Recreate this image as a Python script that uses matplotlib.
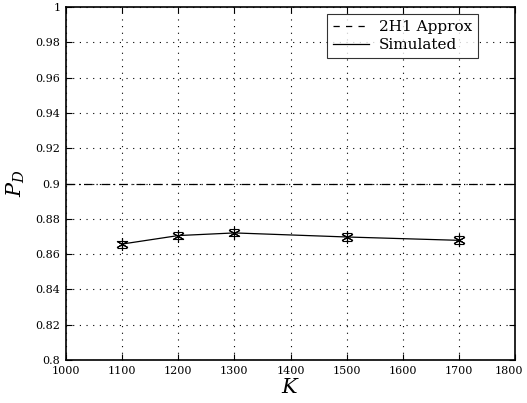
import matplotlib
matplotlib.use("Agg")
import matplotlib.pyplot as plt
import matplotlib.transforms as mtransforms
from matplotlib.lines import Line2D

K = [1100, 1200, 1300, 1500, 1700]
pd_sim = [0.8657, 0.8705, 0.8720, 0.8697, 0.8678]
pd_err = [0.0020, 0.0020, 0.0020, 0.0020, 0.0022]
approx_x = [1000, 1800]
approx_y = [0.9, 0.9]

plt.rcParams['font.family'] = ['DejaVu Serif']
plt.rcParams['mathtext.fontset'] = 'dejavuserif'

fig = plt.figure(figsize=(5.27, 4.03), dpi=100)
ax = fig.add_axes([66/527, 1-360/403, (515-66)/527, (360-7)/403])

ax.plot(approx_x, approx_y, color='black', linestyle=(0, (7, 3, 1, 3)), linewidth=0.9)
ax.errorbar(K, pd_sim, yerr=pd_err, color='black', linewidth=0.9,
            marker=(6, 2, 0), markersize=9, markeredgewidth=0.8,
            capsize=3.5, elinewidth=0.8, capthick=0.8)

ax.set_xlim(1000, 1800)
ax.set_ylim(0.8, 1.0)
ax.set_xticks(range(1000, 1801, 100))
ax.set_yticks([0.8 + 0.02*i for i in range(11)])
ax.set_yticklabels(['0.8', '0.82', '0.84', '0.86', '0.88', '0.9', '0.92', '0.94', '0.96', '0.98', '1'])
ax.tick_params(direction='in', top=True, right=True, labelsize=8, length=4, width=0.8, pad=4)
ax.grid(True, linestyle=(0, (1, 5)), color='black', linewidth=0.8)
for s in ax.spines.values():
    s.set_linewidth(1.2)

# nudge last x tick label inward so it stays within the figure
last = ax.get_xticklabels()[-1]
last.set_transform(last.get_transform() + mtransforms.ScaledTranslation(-6/100, 0, fig.dpi_scale_trans))

ax.set_xlabel(r'$K$', fontsize=15, labelpad=2)
ax.set_ylabel(r'$P_D$', fontsize=15, labelpad=6)

handles = [Line2D([0], [0], color='black', linestyle=(0, (5, 5)), linewidth=0.9),
           Line2D([0], [0], color='black', linestyle='-', linewidth=0.9)]
leg = ax.legend(handles, ['2H1 Approx', 'Simulated'], loc='upper right',
                bbox_to_anchor=(478/527, 1-14/403), bbox_transform=fig.transFigure,
                fontsize=11, frameon=True, fancybox=False, edgecolor='black',
                borderaxespad=0, handlelength=2.4, handletextpad=0.6,
                borderpad=0.4, labelspacing=0.25)
leg.get_frame().set_linewidth(0.8)

fig.savefig('out.png', dpi=100, facecolor='white')
